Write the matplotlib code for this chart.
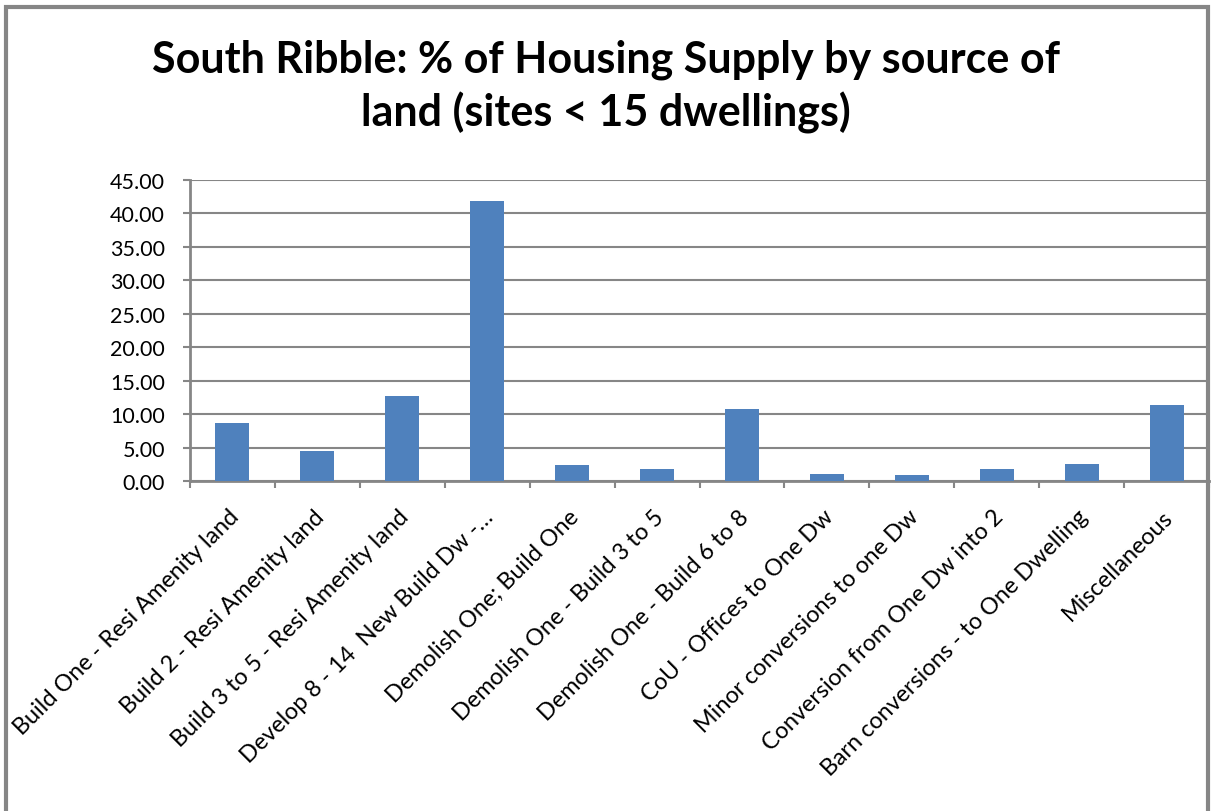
import matplotlib
matplotlib.use("Agg")
import matplotlib.pyplot as plt
from matplotlib.patches import Rectangle
import numpy as np

categories = [
    "Build One - Resi Amenity land",
    "Build 2 - Resi Amenity land",
    "Build 3 to 5 - Resi Amenity land",
    "Develop 8 - 14  New Build Dw -…",
    "Demolish One; Build One",
    "Demolish One - Build 3 to 5",
    "Demolish One - Build 6 to 8",
    "CoU - Offices to One Dw",
    "Minor conversions to one Dw",
    "Conversion from One Dw into 2",
    "Barn conversions - to One Dwelling",
    "Miscellaneous",
]
values = [8.70, 4.48, 12.77, 41.88, 2.37, 1.76, 10.81, 1.00, 0.85, 1.72, 2.47, 11.38]
yticks = [0, 5, 10, 15, 20, 25, 30, 35, 40, 45]
title_lines = ["South Ribble: % of Housing Supply by source of",
               "land (sites < 15 dwellings)"]

plt.rcParams['font.family'] = ['Lato', 'DejaVu Sans']

W, H = 1212, 812
fig = plt.figure(figsize=(W / 100, H / 100), dpi=100)
fig.patch.set_facecolor('white')

# chart frame
frame = Rectangle((6 / W, -0.05), (1208 - 6) / W, (H - 8) / H + 0.05,
                  transform=fig.transFigure, fill=False, edgecolor='#868686',
                  linewidth=3, zorder=0)
fig.patches.append(frame)

L, R, T, B = 190, 1209, 181, 482
ax = fig.add_axes([L / W, (H - B) / H, (R - L) / W, (B - T) / H])
x = np.arange(len(categories))
ax.bar(x, values, width=0.40, color='#4F81BD', zorder=3)

ax.set_xlim(-0.5, len(categories) - 0.5)
ax.set_ylim(0, 45)
ax.set_yticks(yticks)
ax.set_yticklabels([f"{v:.2f}" for v in yticks], fontsize=15.5, color='black')
ax.yaxis.grid(True, color='#868686', linewidth=1.5, zorder=0)
ax.set_axisbelow(True)

# x ticks between categories
ax.set_xticks(np.arange(-0.5, len(categories) + 0.5, 1.0))
ax.set_xticklabels([])
ax.tick_params(axis='x', length=5, width=1.5, color='#868686', direction='out')
ax.tick_params(axis='y', length=5, width=1.5, color='#868686', direction='out', pad=13)

for side in ['top', 'right']:
    ax.spines[side].set_visible(False)
for side in ['left', 'bottom']:
    ax.spines[side].set_color('#868686')
    ax.spines[side].set_linewidth(2)

for xi, lab in zip(x, categories):
    ax.annotate(lab, xy=(xi, 0), xycoords=('data', 'axes fraction'),
                xytext=(2.2, -23.1), textcoords='offset points',
                rotation=45, ha='right', va='center', rotation_mode='anchor',
                fontsize=16.8, color='black')

fig.text(606 / W, 1 - 72 / H, title_lines[0], ha='center', va='baseline',
         fontsize=31, fontweight='bold')
fig.text(606 / W, 1 - 127 / H, title_lines[1], ha='center', va='baseline',
         fontsize=31, fontweight='bold')

fig.savefig("out.png", dpi=100)
